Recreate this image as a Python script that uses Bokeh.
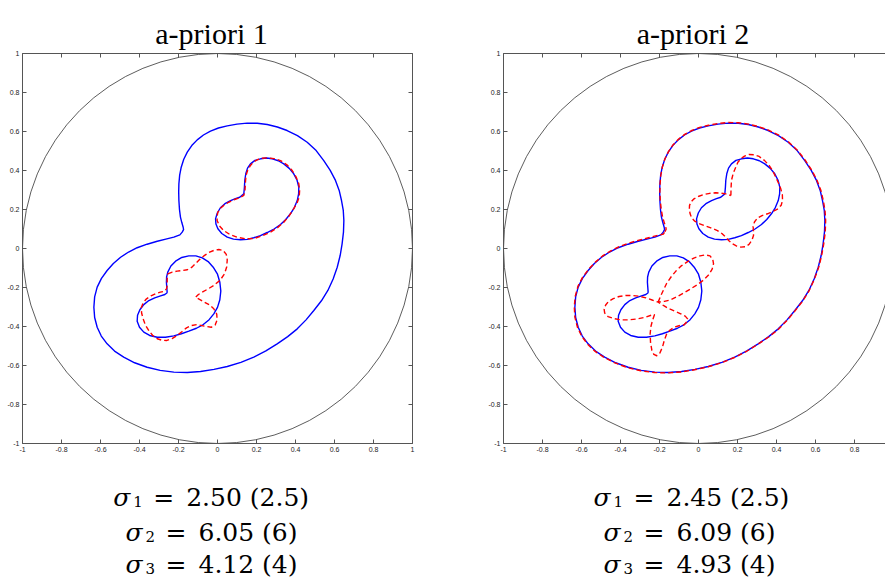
from bokeh.plotting import figure
from bokeh.layouts import row, column
from bokeh.models import Range1d, LinearAxis, FixedTicker
from bokeh.core.properties import value
from bokeh.embed import file_html
from bokeh.resources import INLINE

# ---------------- data ----------------
titles = ["a-priori 1", "a-priori 2"]
sigma_index = ["1", "2", "3"]
sigma_est_1 = ["2.50", "6.05", "4.12"]
sigma_est_2 = ["2.45", "6.09", "4.93"]
sigma_true = ["2.5", "6", "4"]

tick_vals = [-1, -0.8, -0.6, -0.4, -0.2, 0, 0.2, 0.4, 0.6, 0.8, 1]
tick_labels = ["-1", "-0.8", "-0.6", "-0.4", "-0.2", "0", "0.2", "0.4", "0.6", "0.8", "1"]

circle_cx = [0]
circle_cy = [0]
circle_r = [1]

# true outer boundary (blue, both panels), (x, y) pairs
outer_true = [
    (-0.181, 0.084), (-0.174, 0.097), (-0.176, 0.109), (-0.183, 0.133), (-0.190, 0.161),
    (-0.195, 0.200), (-0.198, 0.246), (-0.199, 0.290), (-0.198, 0.332), (-0.194, 0.376),
    (-0.186, 0.417), (-0.173, 0.458), (-0.155, 0.494), (-0.132, 0.528), (-0.104, 0.557),
    (-0.072, 0.582), (-0.036, 0.602), (0.005, 0.618), (0.050, 0.629), (0.100, 0.638),
    (0.152, 0.643), (0.204, 0.642), (0.255, 0.636), (0.307, 0.623), (0.357, 0.605),
    (0.410, 0.579), (0.460, 0.545), (0.506, 0.502), (0.545, 0.451), (0.578, 0.401),
    (0.605, 0.349), (0.624, 0.298), (0.636, 0.246), (0.645, 0.195), (0.648, 0.144),
    (0.646, 0.084), (0.639, 0.024), (0.629, -0.036), (0.614, -0.096), (0.593, -0.156),
    (0.566, -0.215), (0.533, -0.268), (0.494, -0.318), (0.454, -0.366), (0.409, -0.412),
    (0.360, -0.452), (0.306, -0.489), (0.248, -0.525), (0.186, -0.557), (0.120, -0.584),
    (0.050, -0.605), (-0.018, -0.620), (-0.087, -0.631), (-0.155, -0.636), (-0.224, -0.634),
    (-0.294, -0.625), (-0.361, -0.609), (-0.425, -0.586), (-0.481, -0.557), (-0.528, -0.526),
    (-0.566, -0.489), (-0.596, -0.449), (-0.617, -0.404), (-0.630, -0.354), (-0.634, -0.301),
    (-0.630, -0.248), (-0.617, -0.198), (-0.595, -0.153), (-0.566, -0.113), (-0.534, -0.077),
    (-0.497, -0.045), (-0.456, -0.018), (-0.412, 0.004), (-0.361, 0.022), (-0.309, 0.037),
    (-0.265, 0.048), (-0.224, 0.058), (-0.193, 0.070), (-0.181, 0.084),
]

# true upper inclusion (blue)
upper_true = [
    (0.135, 0.280), (0.138, 0.314), (0.140, 0.350), (0.145, 0.383), (0.154, 0.412),
    (0.169, 0.434), (0.192, 0.452), (0.221, 0.460), (0.251, 0.464), (0.281, 0.460),
    (0.312, 0.450), (0.340, 0.434), (0.368, 0.411), (0.391, 0.383), (0.408, 0.350),
    (0.417, 0.314), (0.416, 0.280), (0.409, 0.246), (0.394, 0.210), (0.374, 0.178),
    (0.350, 0.149), (0.323, 0.123), (0.290, 0.100), (0.255, 0.082), (0.220, 0.066),
    (0.186, 0.055), (0.152, 0.047), (0.118, 0.045), (0.082, 0.048), (0.050, 0.058),
    (0.022, 0.077), (0.002, 0.101), (-0.008, 0.126), (-0.010, 0.152), (-0.001, 0.182),
    (0.015, 0.209), (0.038, 0.230), (0.067, 0.246), (0.092, 0.256), (0.114, 0.263),
    (0.135, 0.280),
]

# true lower inclusion (blue)
lower_true = [
    (-0.258, -0.227), (-0.260, -0.200), (-0.262, -0.173), (-0.261, -0.146), (-0.255, -0.121),
    (-0.239, -0.090), (-0.215, -0.065), (-0.183, -0.046), (-0.147, -0.038), (-0.111, -0.038),
    (-0.078, -0.048), (-0.048, -0.067), (-0.022, -0.096), (0.000, -0.132), (0.012, -0.173),
    (0.017, -0.218), (0.012, -0.263), (0.000, -0.302), (-0.019, -0.335), (-0.043, -0.365),
    (-0.073, -0.390), (-0.108, -0.409), (-0.147, -0.424), (-0.185, -0.437), (-0.224, -0.448),
    (-0.267, -0.455), (-0.309, -0.455), (-0.348, -0.446), (-0.378, -0.429), (-0.400, -0.404),
    (-0.412, -0.373), (-0.410, -0.342), (-0.398, -0.314), (-0.378, -0.288), (-0.352, -0.267),
    (-0.322, -0.253), (-0.292, -0.243), (-0.270, -0.236), (-0.258, -0.227),
]

# a-priori 1 reconstructions (red)
upper_rec1 = [
    (0.141, 0.297), (0.143, 0.336), (0.146, 0.374), (0.155, 0.402), (0.169, 0.426),
    (0.185, 0.443), (0.204, 0.455), (0.229, 0.463), (0.255, 0.465), (0.290, 0.461),
    (0.323, 0.451), (0.356, 0.429), (0.383, 0.400), (0.403, 0.367), (0.417, 0.332),
    (0.421, 0.297), (0.419, 0.263), (0.408, 0.233), (0.391, 0.204), (0.368, 0.168),
    (0.340, 0.135), (0.308, 0.107), (0.272, 0.084), (0.230, 0.065), (0.186, 0.051),
    (0.142, 0.050), (0.101, 0.058), (0.063, 0.072), (0.032, 0.092), (0.010, 0.116),
    (-0.002, 0.144), (-0.002, 0.167), (0.002, 0.186), (0.014, 0.205), (0.032, 0.221),
    (0.057, 0.237), (0.084, 0.250), (0.112, 0.260), (0.135, 0.272), (0.141, 0.297),
]

lower_rec1 = [
    (-0.255, -0.130), (-0.232, -0.121), (-0.207, -0.116), (-0.180, -0.113), (-0.155, -0.109),
    (-0.133, -0.097), (-0.113, -0.078), (-0.092, -0.057), (-0.070, -0.038), (-0.045, -0.021),
    (-0.019, -0.010), (0.007, -0.005), (0.029, -0.010), (0.045, -0.030), (0.050, -0.058),
    (0.047, -0.095), (0.036, -0.130), (0.013, -0.163), (-0.019, -0.190), (-0.050, -0.208),
    (-0.078, -0.224), (-0.098, -0.236), (-0.113, -0.250), (-0.090, -0.262), (-0.067, -0.275),
    (-0.040, -0.290), (-0.019, -0.309), (-0.004, -0.336), (-0.002, -0.366), (-0.012, -0.392),
    (-0.032, -0.404), (-0.068, -0.398), (-0.104, -0.390), (-0.133, -0.395), (-0.159, -0.407),
    (-0.183, -0.427), (-0.207, -0.446), (-0.233, -0.462), (-0.262, -0.472), (-0.287, -0.470),
    (-0.309, -0.463), (-0.333, -0.445), (-0.352, -0.421), (-0.370, -0.392), (-0.381, -0.361),
    (-0.389, -0.332), (-0.391, -0.304), (-0.381, -0.278), (-0.364, -0.258), (-0.341, -0.243),
    (-0.318, -0.232), (-0.293, -0.224), (-0.272, -0.219), (-0.261, -0.206), (-0.258, -0.190),
    (-0.258, -0.172), (-0.258, -0.155), (-0.257, -0.142), (-0.255, -0.130),
]

# a-priori 2 reconstructions (red)
outer_rec2 = [
    (-0.172, 0.086), (-0.166, 0.099), (-0.168, 0.111), (-0.176, 0.134), (-0.184, 0.161),
    (-0.191, 0.200), (-0.196, 0.246), (-0.198, 0.290), (-0.197, 0.333), (-0.193, 0.378),
    (-0.185, 0.419), (-0.172, 0.460), (-0.154, 0.497), (-0.131, 0.531), (-0.103, 0.560),
    (-0.071, 0.585), (-0.035, 0.605), (0.006, 0.621), (0.051, 0.632), (0.101, 0.641),
    (0.153, 0.646), (0.205, 0.645), (0.256, 0.638), (0.308, 0.625), (0.359, 0.607),
    (0.412, 0.581), (0.462, 0.546), (0.508, 0.503), (0.548, 0.452), (0.581, 0.401),
    (0.608, 0.349), (0.628, 0.297), (0.640, 0.246), (0.649, 0.194), (0.652, 0.143),
    (0.650, 0.083), (0.642, 0.022), (0.631, -0.038), (0.616, -0.098), (0.594, -0.158),
    (0.567, -0.217), (0.534, -0.270), (0.495, -0.320), (0.455, -0.368), (0.410, -0.414),
    (0.360, -0.454), (0.305, -0.491), (0.247, -0.527), (0.184, -0.559), (0.118, -0.586),
    (0.048, -0.607), (-0.020, -0.622), (-0.089, -0.633), (-0.157, -0.638), (-0.226, -0.636),
    (-0.296, -0.627), (-0.364, -0.611), (-0.428, -0.587), (-0.485, -0.558), (-0.532, -0.526),
    (-0.570, -0.489), (-0.600, -0.448), (-0.621, -0.403), (-0.634, -0.352), (-0.637, -0.298),
    (-0.632, -0.244), (-0.618, -0.193), (-0.594, -0.147), (-0.563, -0.106), (-0.529, -0.070),
    (-0.492, -0.038), (-0.450, -0.012), (-0.405, 0.010), (-0.353, 0.029), (-0.300, 0.044),
    (-0.256, 0.055), (-0.215, 0.066), (-0.180, 0.074), (-0.172, 0.086),
]

upper_rec2 = [
    (0.166, 0.272), (0.167, 0.310), (0.169, 0.349), (0.178, 0.385), (0.191, 0.417),
    (0.202, 0.442), (0.217, 0.460), (0.236, 0.474), (0.259, 0.482), (0.286, 0.481),
    (0.311, 0.472), (0.338, 0.452), (0.362, 0.426), (0.381, 0.397), (0.396, 0.366),
    (0.410, 0.336), (0.422, 0.306), (0.430, 0.276), (0.431, 0.246), (0.424, 0.222),
    (0.408, 0.204), (0.382, 0.190), (0.354, 0.178), (0.326, 0.169), (0.303, 0.157),
    (0.287, 0.136), (0.280, 0.113), (0.282, 0.090), (0.282, 0.067), (0.274, 0.042),
    (0.259, 0.021), (0.240, 0.009), (0.217, 0.007), (0.194, 0.013), (0.174, 0.024),
    (0.156, 0.040), (0.140, 0.058), (0.120, 0.077), (0.097, 0.092), (0.063, 0.106),
    (0.029, 0.118), (0.002, 0.128), (-0.019, 0.140), (-0.035, 0.157), (-0.043, 0.178),
    (-0.047, 0.200), (-0.046, 0.221), (-0.037, 0.240), (-0.023, 0.255), (0.002, 0.268),
    (0.029, 0.277), (0.058, 0.283), (0.089, 0.286), (0.115, 0.284), (0.140, 0.280),
    (0.166, 0.272),
]

lower_rec2 = [
    (-0.207, -0.275), (-0.193, -0.241), (-0.163, -0.178), (-0.140, -0.145), (-0.116, -0.116),
    (-0.088, -0.089), (-0.056, -0.067), (-0.024, -0.049), (0.008, -0.038), (0.036, -0.033),
    (0.059, -0.038), (0.073, -0.055), (0.077, -0.078), (0.070, -0.106), (0.054, -0.133),
    (0.028, -0.160), (-0.005, -0.185), (-0.040, -0.207), (-0.074, -0.227), (-0.108, -0.246),
    (-0.142, -0.263), (-0.175, -0.271), (-0.207, -0.275), (-0.180, -0.292), (-0.151, -0.309),
    (-0.120, -0.322), (-0.091, -0.335), (-0.068, -0.347), (-0.056, -0.361), (-0.062, -0.378),
    (-0.074, -0.391), (-0.100, -0.396), (-0.125, -0.404), (-0.146, -0.418), (-0.163, -0.437),
    (-0.175, -0.470), (-0.185, -0.506), (-0.198, -0.536), (-0.214, -0.550), (-0.229, -0.543),
    (-0.239, -0.523), (-0.246, -0.482), (-0.248, -0.437), (-0.244, -0.400), (-0.236, -0.369),
    (-0.226, -0.340), (-0.236, -0.340), (-0.270, -0.352), (-0.313, -0.361), (-0.357, -0.366),
    (-0.398, -0.366), (-0.436, -0.359), (-0.464, -0.349), (-0.481, -0.331), (-0.484, -0.311),
    (-0.476, -0.290), (-0.462, -0.272), (-0.437, -0.257), (-0.407, -0.246), (-0.373, -0.241),
    (-0.338, -0.241), (-0.303, -0.245), (-0.270, -0.253), (-0.238, -0.264), (-0.207, -0.275),
]

BLUE = "#0000ff"
RED = "#ff0000"
AXIS_COL = "#555555"

TITLE_H = 50
PLOT_H = 415
TEXT_H = 117


def xs(pts):
    return [p[0] for p in pts]


def ys(pts):
    return [p[1] for p in pts]


def make_axis(show_labels):
    overrides = dict(zip(tick_vals, tick_labels if show_labels else [""] * len(tick_vals)))
    return LinearAxis(
        ticker=FixedTicker(ticks=tick_vals, minor_ticks=[]),
        major_label_overrides=overrides,
        major_tick_in=4, major_tick_out=0,
        minor_tick_in=0, minor_tick_out=0,
        axis_line_color=AXIS_COL, axis_line_width=1,
        major_tick_line_color=AXIS_COL,
        major_label_text_font="Liberation Sans",
        major_label_text_font_size="7px" if show_labels else "0px",
        major_label_text_color="#222222",
        major_label_standoff=3 if show_labels else 0,
    )


def make_panel(width, border_left, border_right, x_end, right_axis):
    p = figure(width=width, height=PLOT_H, title=None,
               x_range=Range1d(-1, x_end), y_range=Range1d(-1, 1),
               output_backend="svg", toolbar_location=None,
               x_axis_location=None, y_axis_location=None,
               min_border_left=border_left, min_border_right=border_right,
               min_border_top=3, min_border_bottom=22)
    p.grid.visible = False
    p.outline_line_color = None
    p.background_fill_color = "white"
    p.border_fill_color = "white"
    p.add_layout(make_axis(True), "left")
    p.add_layout(make_axis(True), "below")
    p.add_layout(make_axis(False), "above")
    if right_axis:
        p.add_layout(make_axis(False), "right")
    p.circle(x=circle_cx, y=circle_cy, radius=circle_r, fill_color=None,
             line_color="#333333", line_width=0.8)
    return p


def text_canvas(width, height, border_left, border_right):
    # frame spans the same columns as the plot frame; x in column pixels, y in pixels from top
    t = figure(width=width, height=height, title=None,
               x_range=Range1d(border_left, width - border_right), y_range=Range1d(height, 0),
               output_backend="svg", toolbar_location=None,
               x_axis_location=None, y_axis_location=None,
               min_border_left=border_left, min_border_right=border_right,
               min_border_top=0, min_border_bottom=0)
    t.grid.visible = False
    t.outline_line_color = None
    t.background_fill_color = "white"
    t.border_fill_color = "white"
    return t


def title_fig(width, bl, br, title, cx):
    t = text_canvas(width, TITLE_H, bl, br)
    t.text(x=[cx], y=[33], text=[title], text_align="center", text_baseline="alphabetic",
           text_font=value("Liberation Serif"), text_font_size="30px", text_color="black")
    return t


def sigma_fig(width, bl, br, est, starts):
    t = text_canvas(width, TEXT_H, bl, br)
    bases = [32.3, 66.7, 99.3]
    for i in range(3):
        s, b = starts[i], bases[i]
        t.text(x=[s], y=[b], text=["σ"], text_baseline="alphabetic",
               text_font=value("DejaVu Serif"), text_font_style="italic",
               text_font_size="25px", text_color="black")
        t.text(x=[s + 20], y=[b + 4], text=[sigma_index[i]], text_baseline="alphabetic",
               text_font=value("DejaVu Serif"), text_font_size="15px", text_color="black")
        t.text(x=[s + 40], y=[b], text=["="], text_baseline="alphabetic",
               text_font=value("DejaVu Serif"), text_font_size="25px", text_color="black")
        t.text(x=[s + 73], y=[b], text=[f"{est[i]} ({sigma_true[i]})"], text_baseline="alphabetic",
               text_font=value("DejaVu Serif"), text_font_size="25px", text_color="black")
    return t


def add_curves(p, blue_sets, red_sets):
    for pts in blue_sets:
        p.line(xs(pts), ys(pts), line_color=BLUE, line_width=1.4, line_join="round")
    for pts in red_sets:
        p.line(xs(pts), ys(pts), line_color=RED, line_width=1.4, line_dash="5 3",
               line_join="round")


# left panel: frame at page x 22..412
W1, BL1, BR1 = 460, 22, 48
p1 = make_panel(W1, BL1, BR1, 1, True)
add_curves(p1, [outer_true, upper_true, lower_true], [upper_rec1, lower_rec1])
left_col = column(title_fig(W1, BL1, BR1, titles[0], 211), p1,
                  sigma_fig(W1, BL1, BR1, sigma_est_1, [112.7, 125, 125]))

# right panel: frame at page x 503..885 (cut at the window edge)
W2, BL2, BR2 = 425, 43, 0
p2 = make_panel(W2, BL2, BR2, -1 + (W2 - BL2 - BR2) / 195, False)
add_curves(p2, [outer_true, upper_true, lower_true], [outer_rec2, upper_rec2, lower_rec2])
right_col = column(title_fig(W2, BL2, BR2, titles[1], 232.5), p2,
                   sigma_fig(W2, BL2, BR2, sigma_est_2, [133, 143, 143]))

layout = row(left_col, right_col)
open("out.html", "w").write(file_html(layout, INLINE))
